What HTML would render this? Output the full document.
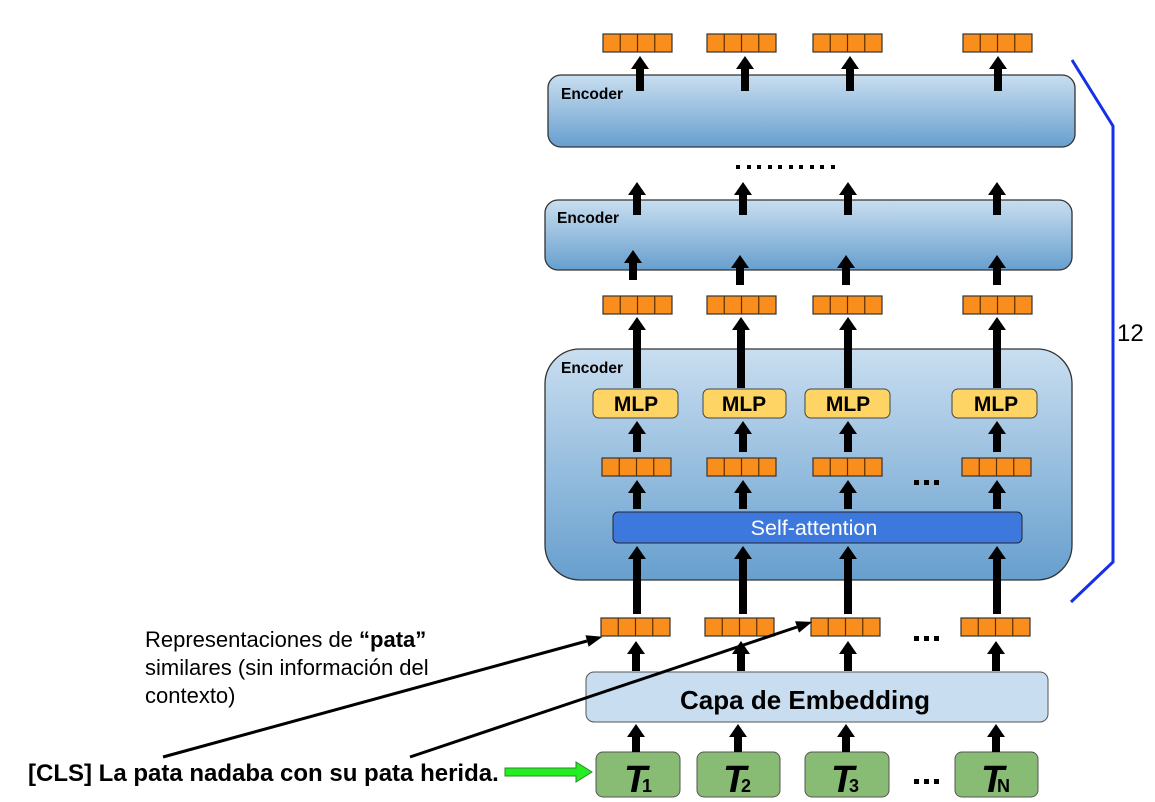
<!DOCTYPE html>
<html><head><meta charset="utf-8"><style>
html,body{margin:0;padding:0;background:#fff;}
svg{display:block;font-family:"Liberation Sans",Arial,sans-serif;}
</style></head><body>
<svg width="1155" height="802" viewBox="0 0 1155 802" xmlns="http://www.w3.org/2000/svg">
<defs>
<linearGradient id="g" x1="0" y1="0" x2="0" y2="1"><stop offset="0" stop-color="#c9def0"/><stop offset="1" stop-color="#679fce"/></linearGradient>
<marker id="a" markerUnits="userSpaceOnUse" viewBox="0 -10 14 20" markerWidth="14" markerHeight="20" refX="0" refY="0" orient="auto"><path d="M0,-9 L13,0 L0,9z" fill="#000"/></marker>
<marker id="t" markerUnits="userSpaceOnUse" viewBox="0 -7 16 14" markerWidth="16" markerHeight="14" refX="0" refY="0" orient="auto"><path d="M0,-6 L16,0 L0,6z" fill="#000"/></marker>
<g id="v"><rect x="0" y="0" width="69" height="18" fill="#f98e1c" stroke="#333" stroke-width="1.2"/><path d="M17.25,0v18M34.5,0v18M51.75,0v18" stroke="#5a3000" stroke-width="1.2"/></g>
</defs>

<rect x="548" y="75" width="527" height="72" rx="13" fill="url(#g)" stroke="#333" stroke-width="1.3"/>
<text x="561" y="99" font-size="15.5" font-weight="bold">Encoder</text>
<rect x="545" y="200" width="527" height="70" rx="13" fill="url(#g)" stroke="#333" stroke-width="1.3"/>
<text x="557" y="223" font-size="15.5" font-weight="bold">Encoder</text>
<rect x="545" y="349" width="527" height="231" rx="35" fill="url(#g)" stroke="#333" stroke-width="1.3"/>
<text x="561" y="373" font-size="15.5" font-weight="bold">Encoder</text>

<g fill="#000"><rect x="736" y="165" width="4" height="4"/><rect x="747" y="165" width="4" height="4"/><rect x="757" y="165" width="4" height="4"/><rect x="768" y="165" width="4" height="4"/><rect x="778" y="165" width="4" height="4"/><rect x="789" y="165" width="4" height="4"/><rect x="799" y="165" width="4" height="4"/><rect x="810" y="165" width="4" height="4"/><rect x="820" y="165" width="4" height="4"/><rect x="831" y="165" width="4" height="4"/></g>

<use href="#v" x="603" y="34"/><use href="#v" x="707" y="34"/><use href="#v" x="813" y="34"/><use href="#v" x="963" y="34"/>
<use href="#v" x="603" y="296"/><use href="#v" x="707" y="296"/><use href="#v" x="813" y="296"/><use href="#v" x="963" y="296"/>
<use href="#v" x="602" y="458"/><use href="#v" x="707" y="458"/><use href="#v" x="813" y="458"/><use href="#v" x="962" y="458"/>
<use href="#v" x="601" y="618"/><use href="#v" x="705" y="618"/><use href="#v" x="811" y="618"/><use href="#v" x="961" y="618"/>

<g font-size="21" font-weight="bold" text-anchor="middle">
<rect x="593" y="389" width="85" height="29" rx="6" fill="#fed565" stroke="#444"/><text x="636" y="411">MLP</text>
<rect x="703" y="389" width="83" height="29" rx="6" fill="#fed565" stroke="#444"/><text x="744" y="411">MLP</text>
<rect x="805" y="389" width="85" height="29" rx="6" fill="#fed565" stroke="#444"/><text x="848" y="411">MLP</text>
<rect x="952" y="389" width="85" height="29" rx="6" fill="#fed565" stroke="#444"/><text x="996" y="411">MLP</text>
</g>
<rect x="613" y="512" width="409" height="31" rx="5" fill="#3d79dd" stroke="#223" stroke-width="1"/>
<text x="814" y="535" font-size="21.5" fill="#fff" text-anchor="middle">Self-attention</text>

<rect x="586" y="672" width="462" height="50" rx="8" fill="#c8ddf0" stroke="#555"/>
<text x="805" y="709" font-size="26" font-weight="bold" text-anchor="middle">Capa de Embedding</text>

<g fill="#88bb74" stroke="#555">
<rect x="596" y="752" width="84" height="45" rx="7"/><rect x="697" y="752" width="83" height="45" rx="7"/>
<rect x="805" y="752" width="84" height="45" rx="7"/><rect x="955" y="752" width="83" height="45" rx="7"/>
</g>
<g font-weight="bold">
<text x="624" y="792" font-size="38" font-style="italic">T</text><text x="642" y="792" font-size="18">1</text>
<text x="723" y="792" font-size="38" font-style="italic">T</text><text x="741" y="792" font-size="18">2</text>
<text x="831" y="792" font-size="38" font-style="italic">T</text><text x="849" y="792" font-size="18">3</text>
<text x="981" y="792" font-size="38" font-style="italic">T</text><text x="997" y="792" font-size="18">N</text>
</g>

<g fill="#000">
<rect x="914" y="480" width="5" height="5"/><rect x="924" y="480" width="5" height="5"/><rect x="934" y="480" width="5" height="5"/>
<rect x="914" y="636" width="5" height="5"/><rect x="924" y="636" width="5" height="5"/><rect x="934" y="636" width="5" height="5"/>
<rect x="914" y="779" width="5" height="5"/><rect x="924" y="779" width="5" height="5"/><rect x="934" y="779" width="5" height="5"/>
</g>

<g stroke="#000" stroke-width="8" marker-end="url(#a)">
<line x1="640" y1="91" x2="640" y2="69"/><line x1="745" y1="91" x2="745" y2="69"/><line x1="850" y1="91" x2="850" y2="69"/><line x1="998" y1="91" x2="998" y2="69"/>
<line x1="637" y1="215" x2="637" y2="195"/><line x1="743" y1="215" x2="743" y2="195"/><line x1="848" y1="215" x2="848" y2="195"/><line x1="997" y1="215" x2="997" y2="195"/>
<line x1="633" y1="280" x2="633" y2="263"/><line x1="740" y1="285" x2="740" y2="268"/><line x1="846" y1="285" x2="846" y2="268"/><line x1="997" y1="285" x2="997" y2="268"/>
<line x1="637" y1="388" x2="637" y2="330"/><line x1="741" y1="388" x2="741" y2="330"/><line x1="848" y1="388" x2="848" y2="330"/><line x1="997" y1="388" x2="997" y2="330"/>
<line x1="637" y1="452" x2="637" y2="434"/><line x1="743" y1="452" x2="743" y2="434"/><line x1="848" y1="452" x2="848" y2="434"/><line x1="997" y1="452" x2="997" y2="434"/>
<line x1="637" y1="509" x2="637" y2="493"/><line x1="743" y1="509" x2="743" y2="493"/><line x1="848" y1="509" x2="848" y2="493"/><line x1="997" y1="509" x2="997" y2="493"/>
<line x1="637" y1="614" x2="637" y2="559"/><line x1="743" y1="614" x2="743" y2="559"/><line x1="848" y1="614" x2="848" y2="559"/><line x1="997" y1="614" x2="997" y2="559"/>
<line x1="636" y1="671" x2="636" y2="654"/><line x1="741" y1="671" x2="741" y2="654"/><line x1="848" y1="671" x2="848" y2="654"/><line x1="996" y1="671" x2="996" y2="654"/>
<line x1="636" y1="752" x2="636" y2="737"/><line x1="738" y1="752" x2="738" y2="737"/><line x1="846" y1="752" x2="846" y2="737"/><line x1="996" y1="752" x2="996" y2="737"/>
</g>

<polyline points="1072,60 1113,126 1113,562 1071,602" fill="none" stroke="#1530e8" stroke-width="3"/>
<text x="1117" y="341" font-size="24">12</text>

<g font-size="22">
<text x="145" y="647">Representaciones de <tspan font-weight="bold">“pata”</tspan></text>
<text x="145" y="675">similares (sin información del</text>
<text x="145" y="703">contexto)</text>
</g>
<text x="28" y="781" font-size="24" font-weight="bold">[CLS] La pata nadaba con su pata herida.</text>
<g stroke="#000" stroke-width="3" marker-end="url(#t)">
<line x1="163" y1="757" x2="587" y2="641"/>
<line x1="410" y1="757" x2="797" y2="627"/>
</g>
<path d="M505,768 H576 V762 L592,772 L576,782 V776 H505 Z" fill="#22ee22" stroke="#2a8a2a" stroke-width="1"/>
</svg>
</body></html>
